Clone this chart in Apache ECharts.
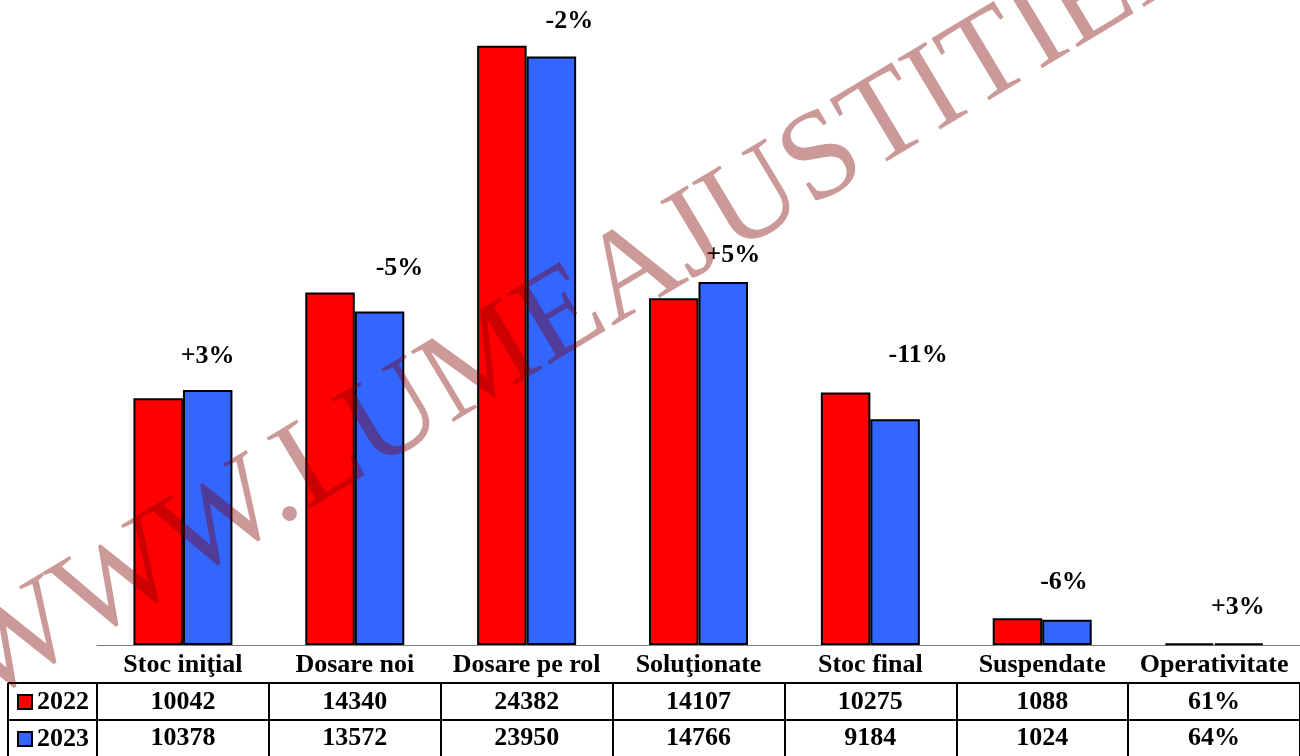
<!DOCTYPE html>
<html>
<head>
<meta charset="utf-8">
<script src="https://cdn.jsdelivr.net/npm/echarts@6/dist/echarts.min.js"></script>
<style>
  html, body { margin: 0; padding: 0; background: #fff; }
  #chart { width: 1300px; height: 756px; }
</style>
</head>
<body>
<div id="chart"></div>
<script>
// data
const categories = ["Stoc iniţial", "Dosare noi", "Dosare pe rol", "Soluţionate", "Stoc final", "Suspendate", "Operativitate"];
const values2022 = [10042, 14340, 24382, 14107, 10275, 1088, 61];
const values2023 = [10378, 13572, 23950, 14766, 9184, 1024, 64];
const units = ["", "", "", "", "", "", "%"];
const changes = ["+3%", "-5%", "-2%", "+5%", "-11%", "-6%", "+3%"];
const years = ["2022", "2023"];

// label nudges (data labels were moved by hand in the original)
const labelOffsets = [[0, -16], [20, -25], [18, -17], [10, -9], [23, -46], [-3, -20], [-1, -18]];

const FONT = '"Liberation Serif", "Times New Roman", serif';
const RED = "#FF0000";
const BLUE = "#3366FF";

const chart = echarts.init(document.getElementById("chart"), null, { renderer: "canvas" });

const cellText = { fontFamily: FONT, fontSize: 26, fontWeight: "bold", color: "#000", lineHeight: 26 };

function rowAxis(vals, offset, tickLen, margin) {
  return {
    type: "category",
    data: vals.map((v, i) => v + units[i]),
    position: "bottom",
    offset: offset,
    axisLine: { show: true, lineStyle: { color: "#000", width: 2 } },
    axisTick: { show: true, length: tickLen, lineStyle: { color: "#000", width: 2 } },
    axisLabel: Object.assign({ margin: margin, interval: 0 }, cellText),
    splitLine: { show: false },
  };
}

const barStyle = (c) => ({ color: c, borderColor: "#000", borderWidth: 2 });

const option = {
  animation: false,
  backgroundColor: "#fff",
  grid: { left: 97, right: 0, top: 6, bottom: 111, containLabel: false },
  legend: {
    orient: "vertical",
    left: 17,
    top: 689,
    padding: 0,
    itemWidth: 14,
    itemHeight: 14,
    itemGap: 11,
    icon: "rect",
    itemStyle: { borderColor: "#000", borderWidth: 2 },
    textStyle: cellText,
    data: years,
  },
  xAxis: [
    {
      type: "category",
      data: categories,
      axisLine: { lineStyle: { color: "#808080", width: 1 } },
      axisTick: { length: 38, lineStyle: { color: "#808080", width: 1 } },
      axisLabel: Object.assign({ margin: 7, interval: 0 }, cellText),
    },
    rowAxis(values2022, 38, 37, 6),
    rowAxis(values2023, 75, 36, 5),
  ],
  yAxis: { type: "value", min: 0, max: 26000, show: false },
  series: [
    {
      name: years[0],
      type: "bar",
      barWidth: 49.5,
      barGap: "0%",
      itemStyle: barStyle(RED),
      data: values2022,
    },
    {
      name: years[1],
      type: "bar",
      barWidth: 49.5,
      itemStyle: barStyle(BLUE),
      data: values2023.map((v, i) => ({
        value: v,
        label: {
          show: true,
          position: "top",
          offset: labelOffsets[i],
          formatter: changes[i],
          fontFamily: FONT,
          fontSize: 26,
          fontWeight: "bold",
          color: "#000",
        },
      })),
    },
  ],
  graphic: {
    z: 100,
    elements: [
      // legend column borders
      { type: "line", shape: { x1: 8, y1: 683, x2: 97, y2: 683 }, style: { stroke: "#000", lineWidth: 2 } },
      { type: "line", shape: { x1: 8, y1: 720, x2: 97, y2: 720 }, style: { stroke: "#000", lineWidth: 2 } },
      { type: "line", shape: { x1: 8, y1: 683, x2: 8, y2: 756 }, style: { stroke: "#000", lineWidth: 2 } },
      // watermark: dark red at 40% gives the look of the multiplied stamp
      {
        type: "text",
        x: -34,
        y: 676,
        rotation: (31 * Math.PI) / 180,
        z: 100,
        silent: true,
        style: {
          text: "WWW.LUMEAJUSTITIEI.RO",
          font: 'normal 126px "Liberation Serif"',
          fill: "rgba(128,0,0,0.4)",
          align: "left",
          verticalAlign: "middle",
        },
      },
    ],
  },
};

chart.setOption(option);
</script>
</body>
</html>
